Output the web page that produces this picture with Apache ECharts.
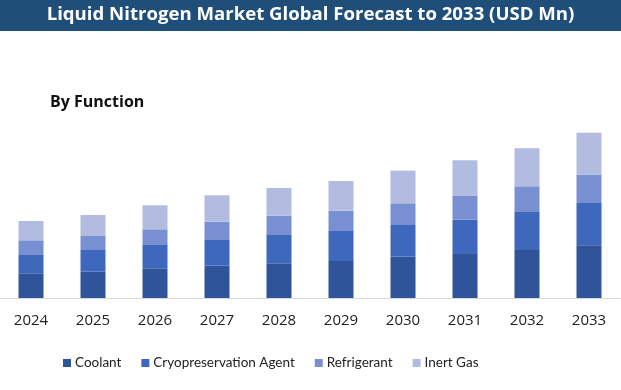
<!DOCTYPE html>
<html>
<head>
<meta charset="utf-8">
<script src="https://cdn.jsdelivr.net/npm/echarts@6/dist/echarts.min.js"></script>
<style>
html,body{margin:0;padding:0;background:#fff;}
#c{width:621px;height:390px;}
</style>
</head>
<body>
<div id="c"></div>
<script>
const years = ['2024','2025','2026','2027','2028','2029','2030','2031','2032','2033'];
const coolant = [24.7, 26.3, 29.7, 32.3, 34.7, 37.0, 41.3, 44.0, 48.0, 52.7];
const cryopreservation = [19.0, 21.7, 24.0, 26.4, 29.0, 30.0, 31.7, 34.3, 38.0, 42.3];
const refrigerant = [14.0, 14.0, 15.0, 17.6, 18.6, 20.3, 21.7, 23.7, 25.7, 28.3];
const inertGas = [19.3, 21.0, 24.0, 26.4, 27.7, 29.7, 32.7, 35.7, 38.0, 42.0];
const seriesNames = ['Coolant','Cryopreservation Agent','Refrigerant','Inert Gas'];
const colors = ['#30549a','#3d68bb','#7890d2','#b1bce0'];
const dataSets = [coolant, cryopreservation, refrigerant, inertGas];

const chart = echarts.init(document.getElementById('c'), null, {renderer:'canvas'});
const font = '"Open Sans", "Liberation Sans", sans-serif';
chart.setOption({
  animation: false,
  backgroundColor: '#fff',
  graphic: [
    {type:'rect', left:0, top:0, shape:{width:621, height:31}, style:{fill:'#1f4e79'}, z:0},
    {type:'text', left:'center', top:5, style:{text:'Liquid Nitrogen Market Global Forecast to 2033 (USD Mn)', fill:'#fff', font:'bold 18.6px ' + font}, z:1},
    {type:'text', left:50, top:94, style:{text:'By Function', fill:'#111', font:'bold 16px ' + font}, z:1}
  ],
  legend: {
    bottom: 15,
    left: 58,
    itemWidth: 8,
    itemHeight: 8,
    itemGap: 20,
    icon: 'rect',
    textStyle: {fontFamily: 'Lato, "Open Sans", sans-serif', fontSize: 13.5, color: '#222', padding:[0,0,0,-1]},
    data: seriesNames
  },
  grid: {left: 0, right: 1, top: 98, bottom: 92, containLabel: false},
  xAxis: {
    type: 'category',
    data: years,
    axisLine: {lineStyle: {color: '#d9d9d9', width: 1}},
    axisTick: {show: false},
    axisLabel: {fontFamily: font, fontSize: 15, color: '#222', margin: 15}
  },
  yAxis: {
    type: 'value', min: 0, max: 200, show: false,
    splitLine: {show: false}
  },
  series: dataSets.map((d, i) => ({
    name: seriesNames[i],
    type: 'bar',
    stack: 'total',
    barWidth: 25,
    data: d,
    itemStyle: {color: colors[i]}
  }))
});
</script>
</body>
</html>
